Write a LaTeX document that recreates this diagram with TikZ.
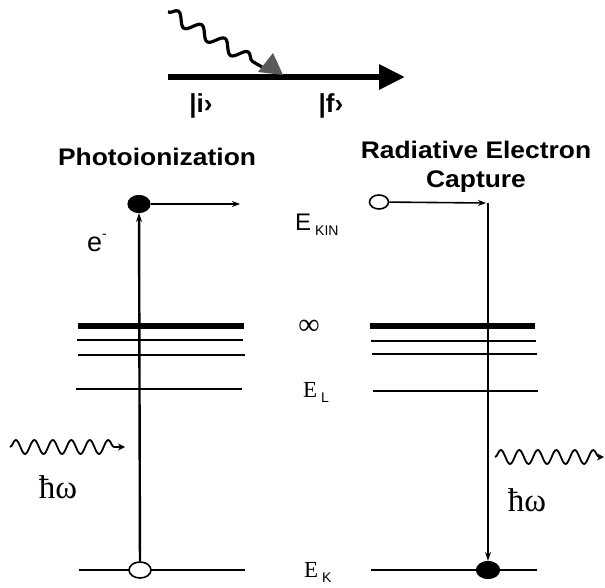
\documentclass[tikz,border=0pt]{standalone}
\usepackage{fontspec}
\setmainfont{Liberation Sans}
\newfontfamily\seriffont{Liberation Serif}
\newfontfamily\plainsans{Liberation Sans}
\usetikzlibrary{arrows.meta,decorations.pathmorphing,shapes.geometric}
\begin{document}
\begin{tikzpicture}[x=1pt,y=-1pt,
  lvl/.style={line width=1.8pt},
  contlvl/.style={line width=6pt},
  fillel/.style={ellipse,draw,fill=black,line width=1.2pt,minimum width=22pt,minimum height=17pt,inner sep=0pt},
  openel/.style={ellipse,draw,fill=white,line width=1.6pt,minimum width=22pt,minimum height=16pt,inner sep=0pt},
  trans/.style={line width=2.4pt,-{Stealth[length=9pt,width=6pt]}},
  photon/.style={line width=1.8pt,decorate,decoration={snake,segment length=18.5pt,amplitude=7pt,post length=4pt},-{Stealth[length=7pt,width=7pt]}},
  title/.style={font=\bfseries\fontsize{24}{29}\selectfont,align=center},
  ket/.style={font=\bfseries\fontsize{26}{30}\selectfont},
  sanslbl/.style={font=\fontsize{24}{28}\selectfont,inner sep=0pt},
  seriflbl/.style={font=\seriffont\fontsize{23}{28}\selectfont,inner sep=0pt},
  hw/.style={font=\seriffont\fontsize{33}{36}\selectfont,inner sep=0pt}
]
\useasboundingbox (0,0) rectangle (605,588);
% ---- top scheme ----
\coordinate (ai) at (168,77);
\coordinate (af) at (405,77);
\draw[line width=6pt,-{Triangle[length=26pt,width=24pt]}] (ai) -- (af);
\coordinate (ws) at (168,12);
\coordinate (we) at (262,67);
\draw[line width=3.2pt,decorate,decoration={snake,segment length=27pt,amplitude=6pt}] (ws) -- (we);
\fill[black!65] (258,72) -- (273,53) -- (283,75) -- cycle;
\node[ket] (keti) at (201,106) {|i›};
\node[ket] (ketf) at (331,106) {|f›};
% ---- titles ----
\node[title] (tpi) at (157,157) {\scalebox{1.1}[1]{Photoionization}};
\node[title] (trec) at (476,167) {\scalebox{1.1}[1]{Radiative Electron}\\\scalebox{1.1}[1]{Capture}};
% ---- levels ----
\draw[contlvl] (78,326) -- (244,326);
\draw[lvl] (77,340) -- (243,340);
\draw[lvl] (78,355) -- (245,355);
\draw[lvl] (76,389) -- (242,389);
\draw[lvl] (79,570) -- (245,570);
\draw[contlvl] (370,326) -- (535,326);
\draw[lvl] (371,341) -- (536,341);
\draw[lvl] (372,354) -- (537,354);
\draw[lvl] (373,391) -- (538,391);
\draw[lvl] (371,570) -- (537,570);
% ---- photoionization ----
\node[fillel] (pe) at (139,204) {};
\node[openel] (pk) at (140,570) {};
\coordinate (pend) at (240,204);
\draw[line width=1.6pt,-{Stealth[length=8pt,width=6pt]}] (pe) -- (pend);
\draw[trans] (pk) -- (pe);
\node[inner sep=0pt,font=\fontsize{27}{30}\selectfont] (elab) at (97,243) {e\raisebox{13pt}{\fontsize{14}{16}\selectfont -}};
\coordinate (pws) at (10,447);
\coordinate (pwe) at (125,447);
\draw[photon] (pws) -- (pwe);
\node[hw] (hwl) at (58,487) {ħω};
% ---- radiative electron capture ----
\node[openel,minimum width=19pt,minimum height=14pt] (ro) at (379,202) {};
\coordinate (rc) at (486,203);
\draw[line width=1.6pt,-{Stealth[length=8pt,width=6pt]}] (ro) -- (rc);
\coordinate (rtop) at (488,203);
\node[fillel,minimum width=23pt] (rk) at (488,570) {};
\draw[trans] (rtop) -- (rk);
\coordinate (rws) at (495,457);
\coordinate (rwe) at (604,457);
\draw[photon] (rws) -- (rwe);
\node[hw] (hwr) at (527,500) {ħω};
% ---- middle labels ----
\node[sanslbl,anchor=west] (ekin) at (295,225) {E\,\raisebox{-5pt}{\fontsize{14}{16}\selectfont KIN}};
\node[inner sep=0pt,font=\seriffont\fontsize{30}{32}\selectfont] (inf) at (309,327) {∞};
\node[seriflbl,anchor=west] (el) at (303,392) {E\,\raisebox{-5pt}{\plainsans\fontsize{14}{16}\selectfont L}};
\node[seriflbl,anchor=west] (ek) at (304,572) {E\,\raisebox{-5pt}{\plainsans\fontsize{14}{16}\selectfont K}};
\end{tikzpicture}
\end{document}
